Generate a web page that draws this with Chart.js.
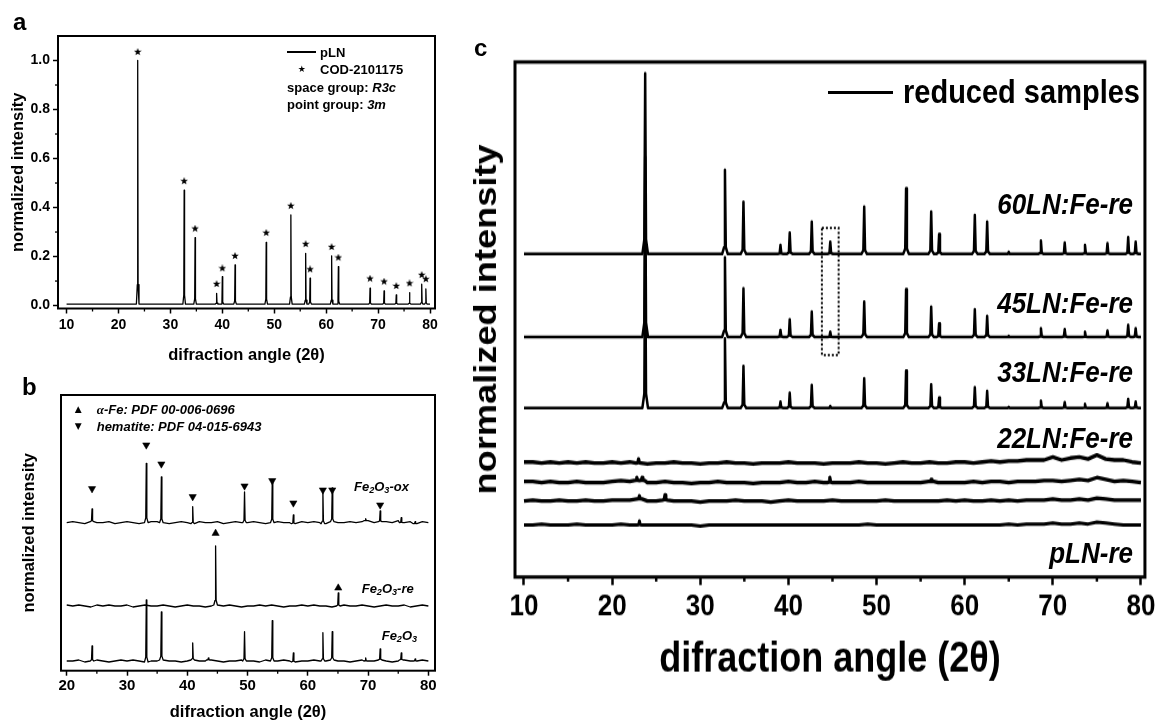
<!DOCTYPE html>
<html>
<head>
<meta charset="utf-8">
<title>XRD patterns</title>
<script src="https://cdn.jsdelivr.net/npm/chart.js@4.4.1/dist/chart.umd.min.js"></script>
<style>
html,body{margin:0;padding:0;background:#fff;}
body{position:relative;width:1159px;height:722px;overflow:hidden;font-family:'Liberation Sans',Arial,sans-serif;color:#000;}
.box{position:absolute;}
.t{position:absolute;white-space:nowrap;font-weight:bold;line-height:1;transform:translateY(-50%);}
.i{font-style:italic;}
.lt{font-size:24px;}
.sa{font-size:13px;}
.sc{font-size:26px;transform:translateY(-50%) scaleY(1.15);transform-origin:50% 50%;}
sub{font-size:70%;vertical-align:-0.25em;line-height:0;}
.sym{position:absolute;font-family:'DejaVu Sans';line-height:1;transform:translate(-50%,-50%);}
.ln{position:absolute;background:#000;}
</style>
</head>
<body>
<div class="box" style="left:0;top:0;"><canvas id="chartA" width="460" height="366"></canvas></div>
<div class="box" style="left:0;top:340px;"><canvas id="chartB" width="460" height="382"></canvas></div>
<div class="box" style="left:460px;top:0;transform:scaleY(1.15);transform-origin:0 0;"><canvas id="chartC" width="699" height="628"></canvas></div>

<div class="t lt" style="left:13px;top:22px;">a</div>
<div class="t lt" style="left:22px;top:387px;">b</div>
<div class="t lt" style="left:474px;top:48px;">c</div>

<!-- panel a legend -->
<div class="ln" style="left:287px;top:51.4px;width:29px;height:1.3px"></div>
<div class="t sa" style="left:320px;top:52px">pLN</div>
<div class="sym" style="left:301.7px;top:69px;font-size:9px">★</div>
<div class="t sa" style="left:320px;top:69px">COD-2101175</div>
<div class="t sa" style="left:287px;top:86.7px">space group: <i>R3c</i></div>
<div class="t sa" style="left:287px;top:103.7px">point group: <i>3m</i></div>

<!-- panel b legend and labels -->
<div class="sym" style="left:78.3px;top:409px;font-size:9px">▲</div>
<div class="t sa i" style="left:96.7px;top:409px"><span style="font-family:'Liberation Serif'">α</span>-Fe: PDF 00-006-0696</div>
<div class="sym" style="left:78.3px;top:425.7px;font-size:9px">▼</div>
<div class="t sa i" style="left:96.7px;top:425.7px">hematite: PDF 04-015-6943</div>
<div class="t sa i" style="left:354px;top:485.7px">Fe<sub>2</sub>O<sub>3</sub>-ox</div>
<div class="t sa i" style="left:361.7px;top:588px">Fe<sub>2</sub>O<sub>3</sub>-re</div>
<div class="t sa i" style="left:381.7px;top:635px">Fe<sub>2</sub>O<sub>3</sub></div>

<!-- panel c legend and labels -->
<div class="ln" style="left:828px;top:90.5px;width:65px;height:3px"></div>
<div class="t sc" style="left:903px;top:92px;font-size:29px">reduced samples</div>
<div class="t sc i" style="right:26px;top:204px">60LN:Fe-re</div>
<div class="t sc i" style="right:26px;top:303px">45LN:Fe-re</div>
<div class="t sc i" style="right:26px;top:372px">33LN:Fe-re</div>
<div class="t sc i" style="right:26px;top:438px">22LN:Fe-re</div>
<div class="t sc i" style="right:26px;top:553px">pLN-re</div>

<script>
const FONT = "'Liberation Sans', Arial, sans-serif";

/* ---------- panel a : pLN ---------- */
const aXTicks = [10, 20, 30, 40, 50, 60, 70, 80];
const aXTickLabels = ['10', '20', '30', '40', '50', '60', '70', '80'];
const aXMinor = [15, 25, 35, 45, 55, 65, 75];
const aYTicks = [0, 0.2, 0.4, 0.6, 0.8, 1.0];
const aYTickLabels = ['0.0', '0.2', '0.4', '0.6', '0.8', '1.0'];
const aYMinor = [0.1, 0.3, 0.5, 0.7, 0.9];
const aBaseline = 0.006;
const aPeakPos = [23.7, 32.65, 34.75, 38.9, 40.0, 42.45, 48.45, 53.2, 56.05, 56.9, 61.05, 62.35, 68.45, 71.15, 73.5, 76.05, 78.4, 79.2];
const aPeakHeight = [0.994, 0.465, 0.271, 0.044, 0.112, 0.16, 0.252, 0.364, 0.207, 0.106, 0.197, 0.153, 0.065, 0.054, 0.038, 0.047, 0.081, 0.062];
const aStarY = [1.035, 0.508, 0.314, 0.088, 0.152, 0.2025, 0.297, 0.407, 0.251, 0.148, 0.239, 0.196, 0.11, 0.098, 0.08, 0.091, 0.125, 0.108];

/* ---------- panel b : iron oxides ---------- */
const bXTicks = [20, 30, 40, 50, 60, 70, 80];
const bXTickLabels = ['20', '30', '40', '50', '60', '70', '80'];
const bXMinor = [25, 35, 45, 55, 65, 75];
const bOxOffset = 1.48, bReOffset = 0.647, bFeOffset = 0.097;
const bOxPeakPos = [24.2, 33.2, 35.7, 40.9, 49.5, 54.1, 57.6, 62.5, 64.05, 69.6, 72.0, 75.5, 77.8];
const bOxPeakHeight = [0.127, 0.594, 0.457, 0.17, 0.307, 0.427, 0.087, 0.327, 0.337, 0.02, 0.107, 0.05, 0.02];
const bRePeakPos = [44.7, 65.05];
const bRePeakHeight = [0.59, 0.13];
const bFePeakPos = [24.2, 33.2, 35.7, 40.9, 43.5, 49.5, 54.1, 57.6, 62.5, 64.05, 69.6, 72.0, 75.5, 77.8];
const bFePeakHeight = [0.15, 0.62, 0.48, 0.17, 0.02, 0.293, 0.403, 0.09, 0.283, 0.283, 0.03, 0.11, 0.07, 0.02];
const bHematitePos = [24.2, 33.2, 35.7, 40.9, 49.5, 54.1, 57.6, 62.5, 64.05, 72.0];
const bHematiteY = [1.82, 2.257, 2.067, 1.74, 1.847, 1.90, 1.677, 1.807, 1.807, 1.657];
const bIronPos = [44.7, 65.05];
const bIronY = [1.374, 0.827];
/* baseline wiggle read at 1 degree steps from 20 to 80 (units of 0.01) */
const bOxNoise = [0,1,0,-1,1,0,0,1,-1,0, 1,0,-1,0,1,1,0,-1,0,1, 0,-1,1,0,0,1,-1,0,1,0, 0,1,0,-1,0,1,0,0,-1,1, 0,1,0,-1,1,0,0,1,0,1, 2,0,1,1,0,2,0,1,-1,1, 0];
const bReNoise = [1,0,1,0,-1,1,0,1,0,0, 1,-1,0,1,0,0,1,0,-1,0, 1,0,0,-1,0,1,0,1,0,-1, 0,0,1,0,1,0,-1,0,0,1, 0,1,0,0,-1,0,1,0,0,1, 0,-1,0,1,0,0,1,-1,0,1, 0];
const bFeNoise = [0,0,1,-1,0,1,0,-1,0,1, 0,1,0,-1,0,0,1,0,0,-1, 0,1,0,0,1,0,-1,0,0,1, 0,0,-1,1,0,0,1,0,-1,0, 0,1,0,0,1,0,0,-1,0,1, 0,0,1,0,-1,0,1,0,0,1, 0];

/* ---------- panel c : reduced samples ---------- */
const cXTicks = [10, 20, 30, 40, 50, 60, 70, 80];
const cXTickLabels = ['10', '20', '30', '40', '50', '60', '70', '80'];
const cXMinor = [15, 25, 35, 45, 55, 65, 75];
const cPeakPos = [23.75, 32.8, 34.9, 39.1, 40.15, 42.65, 44.75, 48.6, 53.35, 56.2, 57.1, 61.15, 62.55, 65.0, 68.65, 71.35, 73.65, 76.2, 78.55, 79.4];
const c60Offset = 3.23, c45Offset = 2.40, c33Offset = 1.69;
const c60Height = [1.807, 0.84, 0.523, 0.09, 0.213, 0.323, 0.123, 0.473, 0.657, 0.423, 0.20, 0.39, 0.323, 0.02, 0.133, 0.113, 0.09, 0.107, 0.167, 0.123];
const c45Height = [1.8, 0.797, 0.487, 0.07, 0.177, 0.253, 0.053, 0.353, 0.477, 0.303, 0.137, 0.277, 0.21, 0.01, 0.087, 0.077, 0.053, 0.063, 0.12, 0.087];
const c33Height = [1.8, 0.697, 0.42, 0.063, 0.153, 0.23, 0.02, 0.297, 0.373, 0.237, 0.103, 0.207, 0.17, 0.01, 0.073, 0.057, 0.04, 0.047, 0.09, 0.063];
const c22Offset = 1.14, cS2Offset = 0.945, cS3Offset = 0.76, cPLNOffset = 0.52;
/* baseline wiggle read at 1 degree steps from 10 to 80 (units of 0.01) */
const c22Noise = [1,1,0,1,0,1,0,1,0,0, 1,0,1,0,-1,0,0,1,0,0, -1,0,0,1,0,0,-1,0,0,0, 1,0,0,0,-1,0,0,0,1,0, 0,-1,0,1,0,0,1,0,0,1, 1,0,1,2,1,2,2,3,3,3, 6,3,5,6,4,8,4,3,3,1, 0];
const cS2Noise = [1,1,0,1,0,0,1,0,0,0, 1,2,1,2,0,0,1,0,0,-1, 0,0,1,0,0,0,-1,0,0,0, 1,0,0,1,0,0,0,0,1,0, 0,0,0,0,0,0,1,0,0,0, 0,1,0,1,1,0,1,1,1,2, 2,1,2,3,2,5,3,1,2,1, 0];
const cS3Noise = [0,1,0,0,1,0,0,1,0,0, 1,1,1,2,0,0,1,0,0,0, -1,0,0,0,1,0,0,0,-1,0, 1,0,0,0,0,1,0,0,0,0, 0,1,0,0,0,0,0,0,1,0, 1,0,0,1,0,1,0,1,1,1, 2,1,1,2,1,3,2,1,1,1, 1];
const cPLNNoise = [0,0,1,0,0,0,1,0,0,0, 0,1,0,0,0,0,0,0,0,0, -1,0,0,0,0,0,0,0,0,0, 0,0,0,0,0,0,0,0,0,1, 0,0,0,0,0,0,0,0,0,0, 0,0,0,0,0,1,0,1,1,1, 2,1,1,2,1,3,2,1,0,0, 0];
const c22SpikePos = [23.0], c22SpikeH = [0.04];
const cS2SpikePos = [22.8, 23.4, 44.7, 56.2], cS2SpikeH = [0.03, 0.03, 0.05, 0.02];
const cS3SpikePos = [23.1, 26.0], cS3SpikeH = [0.03, 0.05];
const cPLNSpikePos = [23.1], cPLNSpikeH = [0.04];
const cBoxX = [43.8, 45.7], cBoxY = [2.22, 3.49];

/* ---------- helpers ---------- */
function buildTrace(base, pos, hts, hw, x0, x1, noise, noiseStart, unit) {
  const pts = [];
  const near = x => pos.some(p => Math.abs(x - p) <= hw);
  const noiseAt = x => noise ? noise[Math.min(noise.length - 1, Math.max(0, Math.round(x - noiseStart)))] * unit : 0;
  if (noise) {
    noise.forEach((v, i) => { const x = noiseStart + i; if (!near(x)) pts.push({x: x, y: base + v * unit}); });
  } else {
    pts.push({x: x0, y: base}, {x: x1, y: base});
  }
  pos.forEach((p, i) => {
    const h = hts[i], b = base + noiseAt(p);
    pts.push({x: p - hw, y: b}, {x: p - hw * 0.3, y: b + h * 0.08}, {x: p, y: b + h},
             {x: p + hw * 0.3, y: b + h * 0.08}, {x: p + hw, y: b});
  });
  return pts.sort((a, b) => a.x - b.x);
}
const pairs = (xs, ys) => xs.map((x, i) => ({x: x, y: ys[i]}));

function makeStar(size) {
  const c = document.createElement('canvas');
  c.width = c.height = size;
  const g = c.getContext('2d');
  const R = size / 2, r = R * 0.42;
  g.beginPath();
  for (let i = 0; i < 10; i++) {
    const ang = -Math.PI / 2 + i * Math.PI / 5, rad = i % 2 ? r : R;
    g.lineTo(R + rad * Math.cos(ang), R + rad * Math.sin(ang));
  }
  g.closePath(); g.fillStyle = '#000'; g.fill();
  return c;
}

const frameTicks = {
  id: 'frameTicks',
  afterDraw(chart, args, o) {
    const {ctx, chartArea: ca, scales} = chart;
    ctx.save();
    ctx.strokeStyle = '#000';
    ctx.lineWidth = o.minorWidth;
    (o.xMinor || []).forEach(v => {
      const px = scales.x.getPixelForValue(v);
      ctx.beginPath(); ctx.moveTo(px, ca.bottom); ctx.lineTo(px, ca.bottom + o.minorLen); ctx.stroke();
    });
    (o.yMinor || []).forEach(v => {
      const py = scales.y.getPixelForValue(v);
      ctx.beginPath(); ctx.moveTo(ca.left, py); ctx.lineTo(ca.left - o.minorLen, py); ctx.stroke();
    });
    if (o.boxX) {
      const x1 = scales.x.getPixelForValue(o.boxX[0]), x2 = scales.x.getPixelForValue(o.boxX[1]);
      const y1 = scales.y.getPixelForValue(o.boxY[1]), y2 = scales.y.getPixelForValue(o.boxY[0]);
      ctx.lineWidth = 2; ctx.setLineDash([2, 2]);
      ctx.strokeRect(x1, y1, x2 - x1, y2 - y1);
      ctx.setLineDash([]);
    }
    ctx.lineWidth = o.frameWidth;
    ctx.strokeRect(ca.left, ca.top, ca.right - ca.left, ca.bottom - ca.top);
    ctx.restore();
  }
};

function xAxis(min, max, ticks, labels, o) {
  return {
    type: 'linear', min: min, max: max,
    afterBuildTicks: s => { s.ticks = ticks.map(v => ({value: v})); },
    afterFit: s => { s.height = o.height; },
    border: {display: false},
    grid: {display: true, drawOnChartArea: false, drawTicks: true, tickLength: o.tickLen, tickWidth: o.tickWidth, tickColor: '#000'},
    ticks: {color: '#000', autoSkip: false, maxRotation: 0, minRotation: 0, padding: o.pad,
            font: {family: FONT, size: o.tickSize, weight: 'bold'}, callback: (v, i) => labels[i]},
    title: {display: true, text: 'difraction angle (2θ)', color: '#000',
            font: {family: FONT, size: o.titleSize, weight: 'bold'}, padding: {top: 0, bottom: o.titlePad}}
  };
}
function yAxisPlain(min, max, o) {
  return {
    type: 'linear', min: min, max: max,
    afterFit: s => { s.width = o.width; },
    border: {display: false},
    grid: {display: false},
    ticks: {display: false},
    title: {display: true, text: 'normalized intensity', color: '#000',
            font: {family: FONT, size: o.titleSize, weight: 'bold'}, padding: {top: o.titlePad, bottom: 0}}
  };
}
const lineDs = (data, w) => ({data: data, borderColor: '#000', borderWidth: w, borderJoinStyle: 'round', borderCapStyle: 'butt',
  pointRadius: 0, tension: 0, fill: false, order: 2});
const markDs = (data, style, r, rot) => ({data: data, showLine: false, pointStyle: style, pointRadius: r, pointRotation: rot || 0,
  pointBackgroundColor: '#000', pointBorderColor: '#000', pointBorderWidth: 0.5, order: 1});
const common = {responsive: false, animation: false, devicePixelRatio: 1, events: [],
  plugins: {legend: {display: false}, tooltip: {enabled: false}}};

/* ---------- chart a ---------- */
const star = makeStar(8);
new Chart(document.getElementById('chartA'), {
  type: 'line',
  data: {datasets: [
    lineDs(buildTrace(aBaseline, aPeakPos, aPeakHeight, 0.25, 10, 80, null, 0, 0), 1.3),
    markDs(pairs(aPeakPos, aStarY), star, 4)
  ]},
  options: Object.assign({}, common, {
    layout: {padding: {top: 36, right: 25, left: 0, bottom: 0}},
    plugins: Object.assign({}, common.plugins, {frameTicks: {frameWidth: 2, minorWidth: 1.3, minorLen: 3, xMinor: aXMinor, yMinor: aYMinor}}),
    scales: {
      x: xAxis(8.35, 80.96, aXTicks, aXTickLabels, {height: 57.5, tickLen: 5, tickWidth: 1.5, pad: 3, tickSize: 14, titleSize: 16.5, titlePad: 1.1}),
      y: {
        type: 'linear', min: -0.012, max: 1.1,
        afterBuildTicks: s => { s.ticks = aYTicks.map(v => ({value: v})); },
        afterFit: s => { s.width = 58; },
        border: {display: false},
        grid: {display: true, drawOnChartArea: false, drawTicks: true, tickLength: 5, tickWidth: 1.5, tickColor: '#000'},
        ticks: {color: '#000', padding: 3, font: {family: FONT, size: 14, weight: 'bold'}, callback: (v, i) => aYTickLabels[i]},
        title: {display: true, text: 'normalized intensity', color: '#000', font: {family: FONT, size: 16.5, weight: 'bold'}, padding: {top: 8.1, bottom: 0}}
      }
    }
  }),
  plugins: [frameTicks]
});

/* ---------- chart b ---------- */
new Chart(document.getElementById('chartB'), {
  type: 'line',
  data: {datasets: [
    lineDs(buildTrace(bOxOffset, bOxPeakPos, bOxPeakHeight, 0.3, 20, 80, bOxNoise, 20, 0.01), 1.3),
    lineDs(buildTrace(bReOffset, bRePeakPos, bRePeakHeight, 0.3, 20, 80, bReNoise, 20, 0.01), 1.3),
    lineDs(buildTrace(bFeOffset, bFePeakPos, bFePeakHeight, 0.3, 20, 80, bFeNoise, 20, 0.01), 1.3),
    markDs(pairs(bHematitePos, bHematiteY), 'triangle', 4.2, 180),
    markDs(pairs(bIronPos, bIronY), 'triangle', 4.2, 0)
  ]},
  options: Object.assign({}, common, {
    layout: {padding: {top: 55, right: 25, left: 0, bottom: 0}},
    plugins: Object.assign({}, common.plugins, {frameTicks: {frameWidth: 2, minorWidth: 1.3, minorLen: 3, xMinor: bXMinor}}),
    scales: {
      x: xAxis(19.05, 81.1, bXTicks, bXTickLabels, {height: 51.3, tickLen: 5, tickWidth: 1.5, pad: 1.3, tickSize: 15, titleSize: 16.5, titlePad: 0.1}),
      y: yAxisPlain(0, 2.757, {width: 61, titleSize: 16.5, titlePad: 19.4})
    }
  }),
  plugins: [frameTicks]
});

/* ---------- chart c ---------- */
new Chart(document.getElementById('chartC'), {
  type: 'line',
  data: {datasets: [
    lineDs(buildTrace(c60Offset, cPeakPos, c60Height, 0.32, 10, 80, null, 0, 0), 2.5),
    lineDs(buildTrace(c45Offset, cPeakPos, c45Height, 0.32, 10, 80, null, 0, 0), 2.5),
    lineDs(buildTrace(c33Offset, cPeakPos, c33Height, 0.32, 10, 80, null, 0, 0), 2.5),
    lineDs(buildTrace(c22Offset, c22SpikePos, c22SpikeH, 0.3, 10, 80, c22Noise, 10, 0.01), 3.3),
    lineDs(buildTrace(cS2Offset, cS2SpikePos, cS2SpikeH, 0.3, 10, 80, cS2Noise, 10, 0.01), 3.3),
    lineDs(buildTrace(cS3Offset, cS3SpikePos, cS3SpikeH, 0.3, 10, 80, cS3Noise, 10, 0.01), 3.3),
    lineDs(buildTrace(cPLNOffset, cPLNSpikePos, cPLNSpikeH, 0.3, 10, 80, cPLNNoise, 10, 0.01), 3.0)
  ]},
  options: Object.assign({}, common, {
    layout: {padding: {top: 53.91, right: 12, left: 0, bottom: 0}},
    plugins: Object.assign({}, common.plugins, {frameTicks: {frameWidth: 3, minorWidth: 2.5, minorLen: 4, xMinor: cXMinor, boxX: cBoxX, boxY: cBoxY}}),
    scales: {
      x: xAxis(8.98, 80.45, cXTicks, cXTickLabels, {height: 126.26, tickLen: 7, tickWidth: 2.5, pad: 3.5, tickSize: 26, titleSize: 36, titlePad: 32.5}),
      y: yAxisPlain(0, 5.15, {width: 55, titleSize: 31.5, titlePad: 8.1})
    }
  }),
  plugins: [frameTicks]
});
</script>
</body>
</html>
